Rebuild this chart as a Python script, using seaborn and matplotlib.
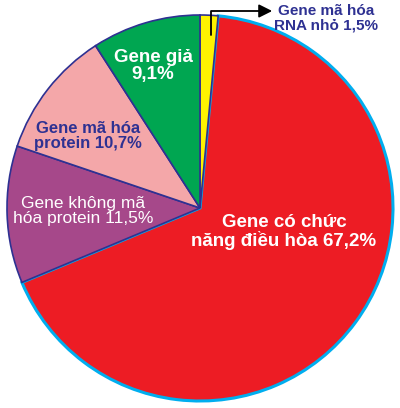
import matplotlib

matplotlib.use("Agg")

import matplotlib.pyplot as plt
import seaborn as sns

# slices in drawing order, clockwise from 12 o'clock
labels = [
    "Gene mã hóa\nRNA nhỏ 1,5%",
    "Gene có chức\nnăng điều hòa 67,2%",
    "Gene không mã\nhóa protein 11,5%",
    "Gene mã hóa\nprotein 10,7%",
    "Gene giả\n9,1%",
]
shares = [1.5, 67.2, 11.5, 10.7, 9.1]
colors = ["#fff200", "#ed1c24", "#a6488a", "#f4a7a9", "#00a651"]

NAVY = "#2e3192"
CYAN = "#00aeef"

# image geometry (pixels) -> data units, pie radius 1
W, H = 400, 408
CX, CY, R = 200, 208, 193


def px(x, y):
    return (x - CX) / R, (CY - y) / R


sns.set_theme(style="white")
plt.rcParams["font.family"] = ["Liberation Sans", "DejaVu Sans"]

fig = plt.figure(figsize=(W / 100, H / 100), dpi=100)
ax = fig.add_axes([0, 0, 1, 1])

wedges, _ = ax.pie(
    shares,
    colors=colors,
    startangle=90,
    counterclock=False,
    radius=1,
    wedgeprops=dict(edgecolor=NAVY, linewidth=1.2),
)
# red slice has a light blue rim
wedges[1].set_edgecolor(CYAN)
wedges[1].set_linewidth(2.2)
wedges[1].set_zorder(0.5)

x0, y0 = px(0, 0)
x1, y1 = px(W, H)
ax.set_xlim(x0, x1)
ax.set_ylim(y1, y0)
ax.set_aspect("auto")
ax.axis("off")

text_spec = [
    # label index, pixel centre, colour, size, weight
    (1, (284, 232), "white", 13.5, "bold"),
    (2, (83, 211), "white", 12.5, "normal"),
    (3, (88, 136), NAVY, 12, "bold"),
    (4, (153, 66), "white", 13.5, "bold"),
]
for idx, (tx, ty), col, size, weight in text_spec:
    ax.text(*px(tx, ty), labels[idx], ha="center", va="center", color=col,
            fontsize=size, fontweight=weight, linespacing=1.05)

ax.annotate(
    "",
    xy=px(275, 11),
    xytext=px(211, 38),
    arrowprops=dict(arrowstyle="-|>", color="black", lw=1.3,
                    mutation_scale=20,
                    connectionstyle="angle,angleA=90,angleB=0,rad=0"),
)
ax.text(*px(326, 18), labels[0], ha="center", va="center", color=NAVY,
        fontsize=11, fontweight="bold", linespacing=1.0)

fig.savefig("out.png", dpi=100)
